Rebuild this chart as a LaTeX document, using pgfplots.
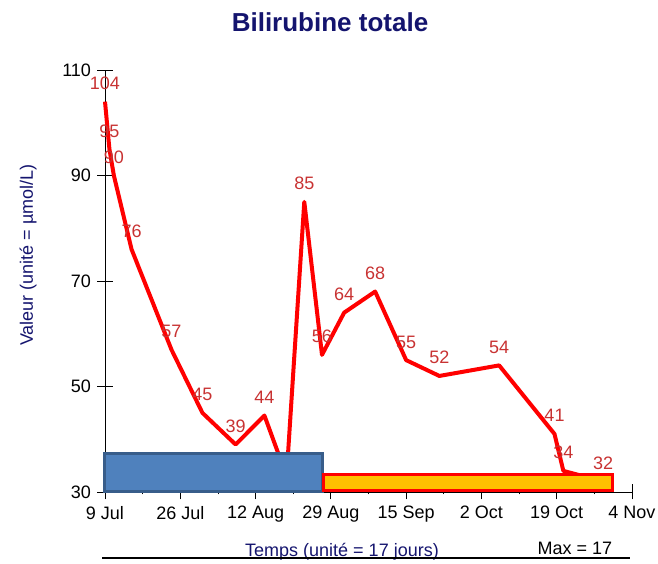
\documentclass[border=0pt]{standalone}
\usepackage{fontspec}
\setmainfont{Liberation Sans}
\usepackage{pgfplots}
\pgfplotsset{compat=1.18}

\definecolor{navytxt}{RGB}{20,20,110}
\definecolor{lblred}{RGB}{200,50,50}
\definecolor{boxblue}{RGB}{79,129,189}
\definecolor{boxblueedge}{RGB}{56,93,138}
\definecolor{boxorange}{RGB}{255,192,0}

\begin{document}
\begin{tikzpicture}
\useasboundingbox (-105pt,-72pt) rectangle (553pt,492pt);
\begin{axis}[
    scale only axis,
    width=527pt, height=422pt,
    xmin=0, xmax=119,
    ymin=30, ymax=110,
    clip=false,
    axis lines=left,
    axis line style={-, black, line width=0.8pt},
    xtick={0,17,34,51,68,85,102,119},
    xticklabels={9 Jul,26 Jul,12 Aug,29 Aug,15 Sep,2 Oct,19 Oct,4 Nov},
    minor x tick num=1,
    ytick={30,50,70,90,110},
    tick align=center,
    major tick length=15pt,
    minor tick length=5pt,
    tick style={black, line width=0.8pt},
    ticklabel style={font=\fontsize{18}{20}\selectfont},
    xticklabel style={yshift=-3pt},
    yticklabel style={xshift=-3pt},
    /pgf/number format/assume math mode=true,
]
% Bilirubine totale (days since 9 Jul)
\addplot[red, line width=4pt, line join=round,
    nodes near coords, point meta=explicit symbolic,
    nodes near coords style={anchor=base, yshift=12pt, text=lblred,
        font=\fontsize{18}{20}\selectfont}]
    table[meta=lbl] {
x   y   lbl
0   104 104
1   95  95
2   90  90
6   76  76
15  57  57
22  45  45
29.5 39 39
36  44.5 44
41  33  {}
45  85  85
49  56  56
54  64  64
61  68  68
68  55  55
75.5 52 52
89  54  54
101.5 41 41
103.5 34 34
112.5 32 32
};
% period boxes
\addplot[draw=boxblueedge, fill=boxblue, line width=3pt]
    coordinates {(0,30) (0,37.3) (49,37.3) (49,30)} -- cycle;
\addplot[draw=red, fill=boxorange, line width=3pt]
    coordinates {(49.3,30.3) (49.3,33.3) (114.5,33.3) (114.5,30.3)} -- cycle;
\end{axis}
\node[text=navytxt, font=\bfseries\fontsize{26}{28}\selectfont] at (225pt,470pt) {Bilirubine totale};
\node[text=navytxt, rotate=90, font=\fontsize{18}{20}\selectfont] at (-77pt,237pt) {Valeur (unité = µmol/L)};
\node[text=navytxt, font=\fontsize{18}{20}\selectfont] at (237pt,-60pt) {Temps (unité = 17 jours)};
\node[font=\fontsize{18}{20}\selectfont] at (470pt,-56pt) {Max = 17};
\draw[black, line width=1.2pt] (-3pt,-66pt) -- (525pt,-66pt);
\end{tikzpicture}
\end{document}
